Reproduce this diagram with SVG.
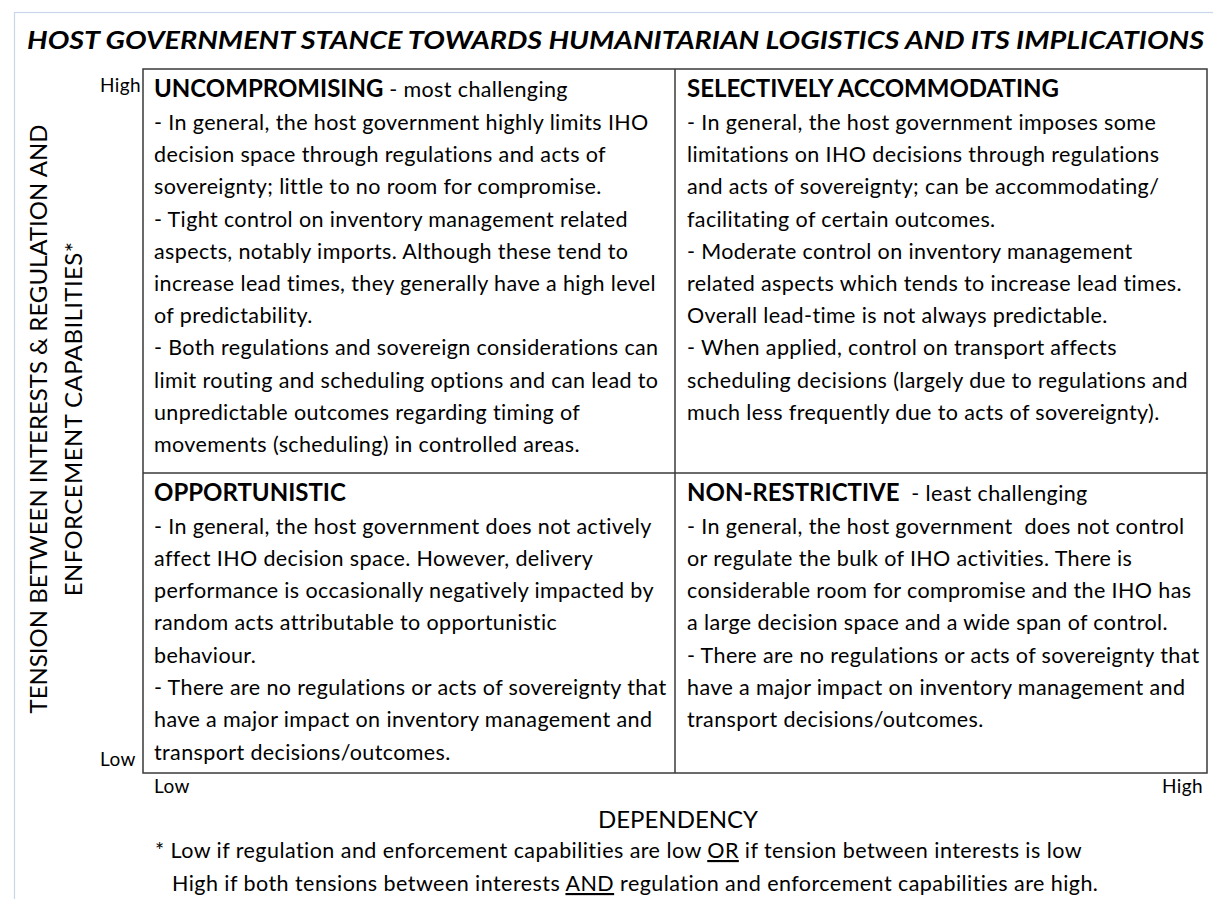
<svg xmlns="http://www.w3.org/2000/svg" width="1213" height="899" viewBox="0 0 1213 899">
<style>
text{font-family:Lato,"Carlito","Liberation Sans",sans-serif;fill:#000;white-space:pre}
.b{font-size:21.5px;letter-spacing:0.38px}
.h{font-size:24px;font-weight:bold}
.hs{font-size:21.5px;font-weight:normal;letter-spacing:0.38px}
.t{font-size:19px;letter-spacing:0.4px}
.ax{font-size:24px}
.fn{font-size:21.5px;letter-spacing:0.45px}
.grid{fill:none;stroke:#3a3a3a;stroke-width:1.5}
</style>
<rect x="14.5" y="12.5" width="1220" height="900" fill="#fff" stroke="#c9d5ea" stroke-width="1.2"/>
<text id="title" x="27" y="49" font-size="24" font-weight="bold" font-style="italic" textLength="1177" lengthAdjust="spacingAndGlyphs">HOST GOVERNMENT STANCE TOWARDS HUMANITARIAN LOGISTICS AND ITS IMPLICATIONS</text>
<g id="grid">
<rect class="grid" x="143" y="69" width="1064" height="704"/>
<line class="grid" x1="675" y1="69" x2="675" y2="773"/>
<line class="grid" x1="143" y1="473" x2="1207" y2="473"/>
</g>
<g id="y-axis">
<text class="t" x="100" y="92">High</text>
<text class="t" x="100" y="766">Low</text>
<text class="ax" transform="translate(47,419) rotate(-90)" text-anchor="middle">TENSION BETWEEN INTERESTS &amp; REGULATION AND</text>
<text class="ax" transform="translate(82,419) rotate(-90)" text-anchor="middle" letter-spacing="0.4">ENFORCEMENT CAPABILITIES*</text>
</g>
<g id="x-axis">
<text class="t" x="154" y="793">Low</text>
<text class="t" x="1203" y="793" text-anchor="end">High</text>
<text class="ax" x="678" y="828" text-anchor="middle" font-size="22.5">DEPENDENCY</text>
</g>
<g id="cell-uncompromising">
<text class="h" x="154" y="97">UNCOMPROMISING<tspan class="hs"> - most challenging</tspan></text>
<text class="b" x="154" y="130">- In general, the host government highly limits IHO</text>
<text class="b" x="154" y="162.2">decision space through regulations and acts of</text>
<text class="b" x="154" y="194.4">sovereignty; little to no room for compromise.</text>
<text class="b" x="154" y="226.6">- Tight control on inventory management related</text>
<text class="b" x="154" y="258.8">aspects, notably imports. Although these tend to</text>
<text class="b" x="154" y="291">increase lead times, they generally have a high level</text>
<text class="b" x="154" y="323.2">of predictability.</text>
<text class="b" x="154" y="355.4">- Both regulations and sovereign considerations can</text>
<text class="b" x="154" y="387.6">limit routing and scheduling options and can lead to</text>
<text class="b" x="154" y="419.8">unpredictable outcomes regarding timing of</text>
<text class="b" x="154" y="452">movements (scheduling) in controlled areas.</text>
</g>
<g id="cell-selectively-accommodating">
<text class="h" x="687" y="97">SELECTIVELY ACCOMMODATING</text>
<text class="b" x="687" y="130">- In general, the host government imposes some</text>
<text class="b" x="687" y="162.2">limitations on IHO decisions through regulations</text>
<text class="b" x="687" y="194.4">and acts of sovereignty; can be accommodating/</text>
<text class="b" x="687" y="226.6">facilitating of certain outcomes.</text>
<text class="b" x="687" y="258.8">- Moderate control on inventory management</text>
<text class="b" x="687" y="291">related aspects which tends to increase lead times.</text>
<text class="b" x="687" y="323.2">Overall lead-time is not always predictable.</text>
<text class="b" x="687" y="355.4">- When applied, control on transport affects</text>
<text class="b" x="687" y="387.6">scheduling decisions (largely due to regulations and</text>
<text class="b" x="687" y="419.8">much less frequently due to acts of sovereignty).</text>
</g>
<g id="cell-opportunistic">
<text class="h" x="154" y="501">OPPORTUNISTIC</text>
<text class="b" x="154" y="533.5">- In general, the host government does not actively</text>
<text class="b" x="154" y="565.8">affect IHO decision space. However, delivery</text>
<text class="b" x="154" y="598.1">performance is occasionally negatively impacted by</text>
<text class="b" x="154" y="630.4">random acts attributable to opportunistic</text>
<text class="b" x="154" y="662.7">behaviour.</text>
<text class="b" x="154" y="695">- There are no regulations or acts of sovereignty that</text>
<text class="b" x="154" y="727.3">have a major impact on inventory management and</text>
<text class="b" x="154" y="759.6">transport decisions/outcomes.</text>
</g>
<g id="cell-non-restrictive">
<text class="h" x="687" y="501">NON-RESTRICTIVE<tspan class="hs">  - least challenging</tspan></text>
<text class="b" x="687" y="533.5">- In general, the host government  does not control</text>
<text class="b" x="687" y="565.8">or regulate the bulk of IHO activities. There is</text>
<text class="b" x="687" y="598.1">considerable room for compromise and the IHO has</text>
<text class="b" x="687" y="630.4">a large decision space and a wide span of control.</text>
<text class="b" x="687" y="662.7">- There are no regulations or acts of sovereignty that</text>
<text class="b" x="687" y="695">have a major impact on inventory management and</text>
<text class="b" x="687" y="727.3">transport decisions/outcomes.</text>
</g>
<g id="footnote">
<text class="fn" x="155" y="858">* Low if regulation and enforcement capabilities are low <tspan text-decoration="underline">OR</tspan> if tension between interests is low</text>
<text class="fn" x="172" y="891">High if both tensions between interests <tspan text-decoration="underline">AND</tspan> regulation and enforcement capabilities are high.</text>
</g>
</svg>
